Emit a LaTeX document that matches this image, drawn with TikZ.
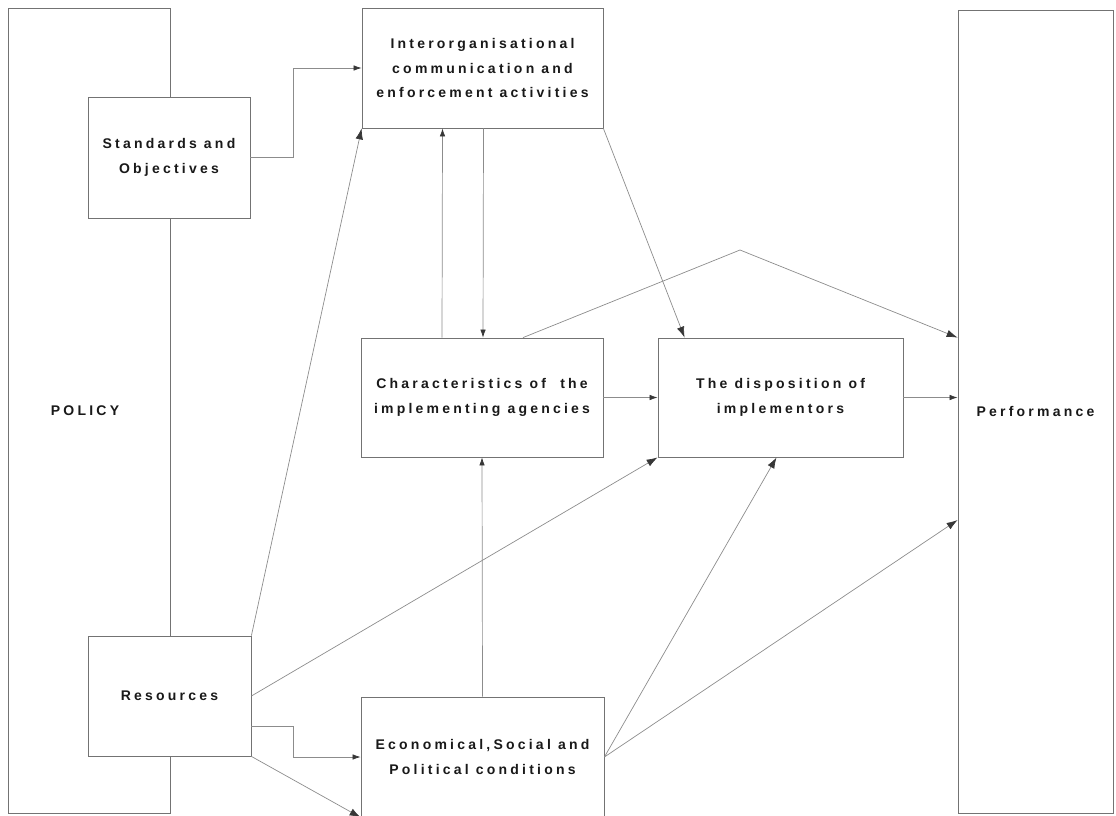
\documentclass[tikz,border=0pt]{standalone}
\usepackage{fontspec}
\newfontfamily\diagfont{Liberation Sans}[LetterSpace=23]
\usetikzlibrary{calc,arrows.meta}
\definecolor{lineg}{RGB}{140,140,140}
\definecolor{boxg}{RGB}{115,115,115}
\definecolor{tipg}{RGB}{55,55,55}
\definecolor{textk}{RGB}{25,25,25}

\tikzset{
  box/.style={draw=boxg, fill=white, line width=0.8pt, inner sep=0pt, align=center,
    text=textk, font={\diagfont\bfseries\fontsize{14}{24.5}\selectfont}},
  link/.style={draw=lineg, line width=0.7pt},
  sarr/.style={link, -{Latex[length=8pt,width=5.5pt,color=tipg]}},
  barr/.style={link, -{Latex[length=11pt,width=7.5pt,color=tipg]}},
}

\begin{document}
\begin{tikzpicture}[x=1pt,y=-1pt]
  \useasboundingbox (0,0) rectangle (1116,815);
  \clip (0,0) rectangle (1116,815);
  % outer frames
  \node[box, minimum width=162pt, minimum height=805pt] (policy) at (89,410.5) {POLICY\hspace*{8pt}};
  \node[box, minimum width=155pt, minimum height=803pt] (perform) at (1035.5,411.5) {Performance};
  % boxes
  \node[box, minimum width=162pt, minimum height=121pt] (standards) at (169,157.5) {Standards and\\Objectives};
  \node[box, minimum width=163pt, minimum height=120pt] (resources) at (169.5,696) {Resources};
  \node[box, minimum width=241pt, minimum height=120pt] (interorg) at (482.5,68) {Interorganisational\\communication and\\enforcement activities};
  \node[box, minimum width=242pt, minimum height=119pt] (charac) at (482,397.5) {Characteristics of\ \ the\\implementing agencies};
  \node[box, minimum width=245pt, minimum height=119pt] (dispos) at (780.5,397.5) {The disposition of\\implementors};
  \node[box, minimum width=243pt, minimum height=120pt] (econ) at (482.5,757) {Economical,Social and\\Political conditions};
  \coordinate (apex) at (740,250);
  % links
  \draw[sarr] (standards.east) -- ++(43,0) |- (interorg.west);
  \draw[sarr] ($(charac.north)+(-40,0)$) -- ($(interorg.south)+(-40,0)$);
  \draw[sarr] ($(interorg.south)+(1,0)$) -- ($(charac.north)+(1,0)$);
  \draw[barr] (interorg.south east) -- ($(dispos.north west)+(27,0)$);
  \draw[barr] ($(charac.north)+(41,0)$) -- (apex) -- (perform.west |- dispos.north);
  \draw[sarr] (charac.east) -- (dispos.west);
  \draw[sarr] (dispos.east) -- (perform.west |- dispos.east);
  \draw[barr] (resources.north east) -- (interorg.south west);
  \draw[barr] (resources.east) -- (dispos.south west);
  \draw[sarr] ($(resources.south east)+(0,-30)$) -- ++(42,0) |- (econ.west);
  \draw[barr] (resources.south east) -- (econ.south west);
  \draw[sarr] (econ.north) -- (charac.south);
  \draw[barr] (econ.east) -- ($(dispos.south)+(-4,0)$);
  \draw[barr] (econ.east) -- ($(perform.west)+(0,108.5)$);
\end{tikzpicture}
\end{document}
